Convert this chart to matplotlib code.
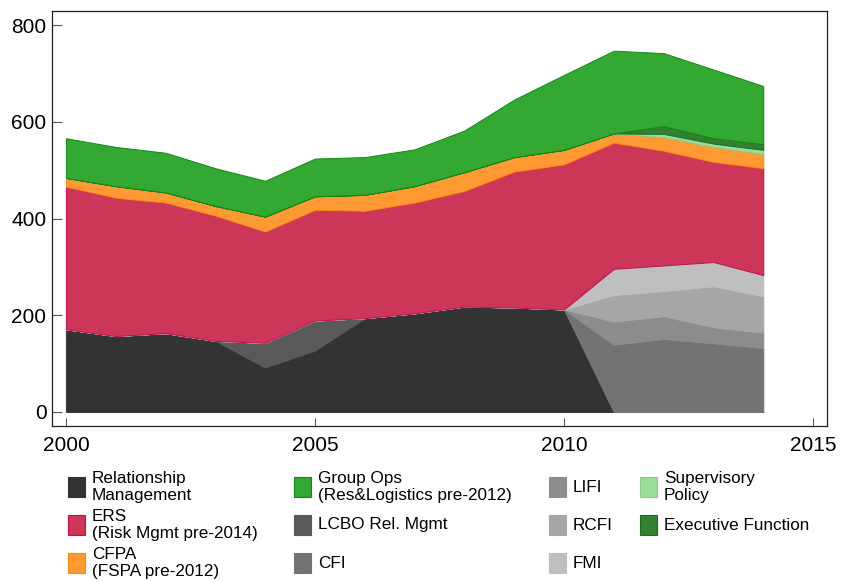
import numpy as np
import matplotlib.pyplot as plt
from matplotlib.patches import Rectangle

# ---------------- 数据 ----------------
years = list(range(2000, 2015))

rel_mgmt   = [171, 157, 163, 147, 92, 127, 194, 204, 218, 216, 212, 0, 0, 0, 0]
lcbo       = [0, 0, 0, 0, 51, 62, 0, 0, 0, 0, 0, 0, 0, 0, 0]
cfi        = [0, 0, 0, 0, 0, 0, 0, 0, 0, 0, 0, 139, 151, 142, 132]
lifi       = [0, 0, 0, 0, 0, 0, 0, 0, 0, 0, 0, 48, 47, 33, 32]
rcfi       = [0, 0, 0, 0, 0, 0, 0, 0, 0, 0, 0, 55, 52, 85, 75]
fmi        = [0, 0, 0, 0, 0, 0, 0, 0, 0, 0, 0, 54, 53, 50, 44]
ers        = [295, 286, 270, 259, 230, 229, 222, 229, 239, 281, 300, 261, 237, 207, 221]
cfpa       = [18, 24, 21, 20, 31, 28, 33, 34, 39, 30, 30, 19, 28, 31, 29]
sup_policy = [0, 0, 0, 0, 0, 0, 0, 0, 0, 0, 0, 0, 7, 7, 9]
exec_fn    = [0, 0, 0, 0, 0, 0, 0, 0, 0, 0, 0, 0, 16, 11, 12]
group_ops  = [82, 81, 82, 78, 74, 78, 78, 76, 86, 119, 155, 171, 151, 142, 120]

labels = ['Relationship\nManagement', 'LCBO Rel. Mgmt', 'CFI', 'LIFI', 'RCFI', 'FMI',
          'ERS\n(Risk Mgmt pre-2014)', 'CFPA\n(FSPA pre-2012)', 'Supervisory\nPolicy',
          'Executive Function', 'Group Ops\n(Res&Logistics pre-2012)']
colors = ['#333333', '#595959', '#737373', '#8c8c8c', '#a6a6a6', '#bfbfbf',
          '#cc3659', '#ff9933', '#99dd99', '#338033', '#33a833']
edge_colors = ['#333333', '#595959', '#737373', '#8c8c8c', '#a6a6a6', '#bfbfbf',
               '#c0104a', '#ff8811', '#88cc88', '#1f6a1f', '#108a10']

plt.rcParams['font.family'] = ['Liberation Sans', 'DejaVu Sans']

fig = plt.figure(figsize=(8.41, 5.81), dpi=100)
ax = fig.add_axes([0.0618, 0.2668, 0.9216, 0.7142])

series = [rel_mgmt, lcbo, cfi, lifi, rcfi, fmi, ers, cfpa, sup_policy, exec_fn, group_ops]
polys = ax.stackplot(years, *series, colors=colors, labels=labels)
for p, ec in zip(polys, edge_colors):
    p.set_edgecolor(ec)
    p.set_linewidth(0.7)

ax.set_xlim(1999.72, 2015.28)
ax.set_ylim(-29, 829)
ax.set_xticks([2000, 2005, 2010, 2015])
ax.set_yticks([0, 200, 400, 600, 800])
ax.tick_params(axis='both', direction='in', labelsize=15, color='#555555')
ax.tick_params(axis='y', length=7, pad=4)
ax.tick_params(axis='x', length=6, pad=7)
for s in ax.spines.values():
    s.set_linewidth(0.9)
    s.set_color('#222222')

# ---------------- 图例: 4 列 x 3 行, 手动排版 (行高统一) ----------------
# 每列的序号 (对应 labels / colors 中的位置)
legend_cols = [[0, 6, 7], [10, 1, 2], [3, 4, 5], [8, 9]]
col_x = [68, 294, 549, 640]        # 色块左边缘 (像素)
row_y = [487, 525, 563]            # 行中心 (像素)
W, H = 841.0, 581.0
for cx, items in zip(col_x, legend_cols):
    for ry, idx in zip(row_y, items):
        rect = Rectangle((cx / W, 1 - (ry + 10) / H), 17 / W, 20 / H,
                         transform=fig.transFigure, facecolor=colors[idx],
                         edgecolor=edge_colors[idx], linewidth=0.8)
        fig.add_artist(rect)
        fig.text((cx + 24) / W, 1 - ry / H, labels[idx], fontsize=12.3,
                 va='center', ha='left', linespacing=1.1)

fig.savefig('out.png', dpi=100)
